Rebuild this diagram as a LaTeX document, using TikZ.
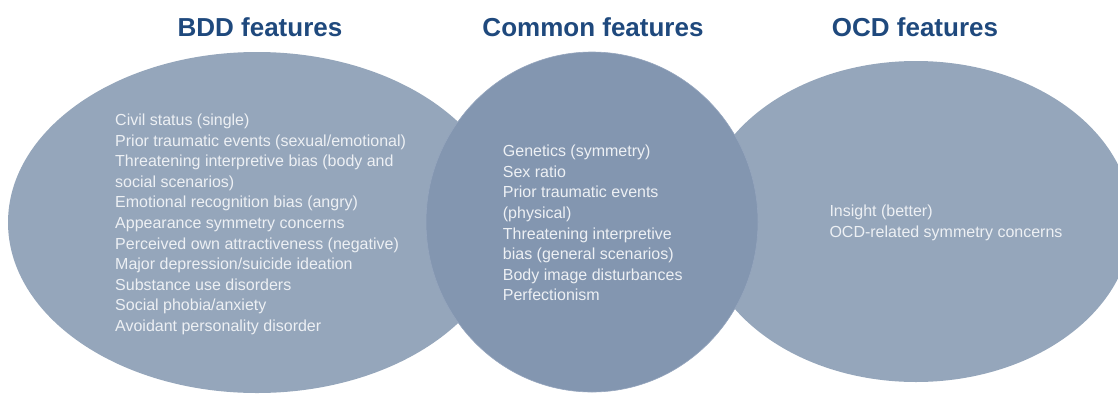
\documentclass[tikz,border=0pt]{standalone}
\usepackage{fontspec}
\setmainfont{Liberation Sans}
\definecolor{outerfill}{RGB}{149,166,187}
\definecolor{innerfill}{RGB}{131,150,176}
\definecolor{titleblue}{RGB}{31,73,125}
\definecolor{bodytext}{RGB}{237,240,244}
\begin{document}
\begin{tikzpicture}[x=1pt,y=-1pt,
  titletext/.style={font=\fontsize{26}{30}\selectfont\bfseries, text=titleblue, inner sep=0pt, anchor=base},
  listtext/.style={font=\fontsize{16}{20.6}\selectfont, text=bodytext, inner sep=0pt, align=left, anchor=base west},
  outerblob/.style={fill=outerfill, draw=none},
  innerblob/.style={fill=innerfill, draw={rgb,255:red,150;green,166;blue,190}, line width=0.6pt}]
\useasboundingbox (0,0) rectangle (1118,394);
% shapes
\fill[outerblob] (257,222.5) ellipse [x radius=249, y radius=170.5];
\fill[outerblob] (916,221.5) ellipse [x radius=216, y radius=160.5];
\path[innerblob] (592,222) ellipse [x radius=166, y radius=170];
% titles
\node[titletext] (bddtitle) at (260,36.5) {BDD features};
\node[titletext] (comtitle) at (593,36.5) {Common features};
\node[titletext] (ocdtitle) at (915,36.5) {OCD features};
% lists (anchored at the baseline of the last line)
\node[listtext] (bddtext) at (115,331.5) {Civil status (single)\\
Prior traumatic events (sexual/emotional)\\
Threatening interpretive bias (body and\\
social scenarios)\\
Emotional recognition bias (angry)\\
Appearance symmetry concerns\\
Perceived own attractiveness (negative)\\
Major depression/suicide ideation\\
Substance use disorders\\
Social phobia/anxiety\\
Avoidant personality disorder};
\node[listtext] (comtext) at (502.7,300.8) {Genetics (symmetry)\\
Sex ratio\\
Prior traumatic events\\
(physical)\\
Threatening interpretive\\
bias (general scenarios)\\
Body image disturbances\\
Perfectionism};
\node[listtext] (ocdtext) at (829.3,237.3) {Insight (better)\\
OCD-related symmetry concerns};
\end{tikzpicture}
\end{document}
